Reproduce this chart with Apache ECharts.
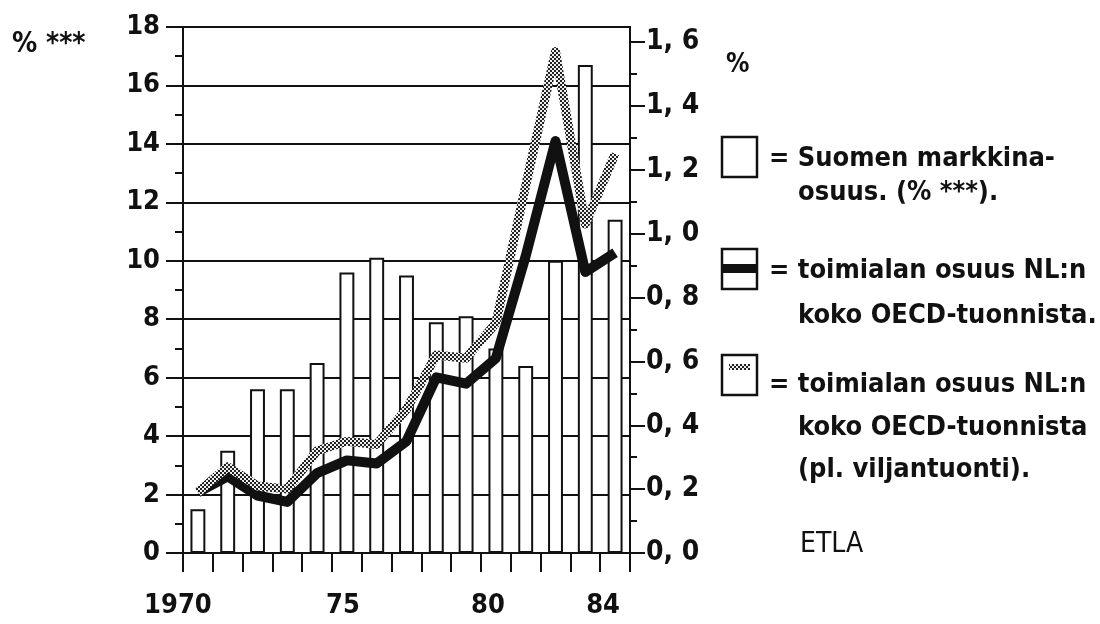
<!DOCTYPE html>
<html><head><meta charset="utf-8">
<script src="https://cdn.jsdelivr.net/npm/echarts@6/dist/echarts.min.js"></script>
<style>html,body{margin:0;padding:0;background:#fff}#c{width:1100px;height:624px}</style>
</head><body><div id="c"></div>
<script>
const years = ['1970','1971','1972','1973','1974','1975','1976','1977','1978','1979','1980','1981','1982','1983','1984'];
const yearLabels = {'1970':'1970','1975':'75','1980':'80','1984':'84'};
const marketShare = [1.5, 3.5, 5.6, 5.6, 6.5, 9.6, 10.1, 9.5, 7.9, 8.1, 7.0, 6.4, 10.0, 16.7, 11.4];
const shareTotal = [0.19, 0.24, 0.18, 0.16, 0.25, 0.29, 0.28, 0.35, 0.55, 0.53, 0.61, 0.93, 1.29, 0.88, 0.94];
const shareExGrain = [0.19, 0.27, 0.21, 0.20, 0.32, 0.35, 0.34, 0.45, 0.62, 0.61, 0.72, 1.15, 1.57, 1.03, 1.25];
const legendTexts = [
  ['= Suomen markkina-', 'osuus. (% ***).'],
  ['= toimialan osuus NL:n', 'koko OECD-tuonnista.'],
  ['= toimialan osuus NL:n', 'koko OECD-tuonnista', '(pl. viljantuonti).']
];

const FONT = "'DejaVu Sans Condensed', 'Liberation Sans Narrow', 'DejaVu Sans', sans-serif";
const INK = '#111';

const pc = document.createElement('canvas'); pc.width = 4; pc.height = 4;
const g = pc.getContext('2d');
g.fillStyle = '#eee'; g.fillRect(0, 0, 4, 4);
g.fillStyle = '#222'; g.fillRect(0, 0, 2, 2); g.fillRect(2, 2, 2, 2);
const checker = { image: pc, repeat: 'repeat' };

const chart = echarts.init(document.getElementById('c'), null, { renderer: 'canvas' });

const G0 = { left: 183, top: 27, width: 447, height: 526 };
const G1 = { left: 183, top: 42, width: 447, height: 511 };

const graphics = [];
graphics.push({ type: 'text', left: 12, top: 31, style: { text: '% ***', font: 'bold 28px ' + FONT, fill: INK } });
graphics.push({ type: 'text', left: 726, top: 52, style: { text: '%', font: 'bold 26px ' + FONT, fill: INK } });
const boxY = [137, 249, 355];
const lineY = [[159, 193], [271, 316], [385, 428, 470]];
boxY.forEach((by) => {
  graphics.push({ type: 'rect', shape: { x: 722, y: by, width: 35, height: 40 }, style: { fill: '#fff', stroke: INK, lineWidth: 2.5 } });
});
graphics.push({ type: 'rect', shape: { x: 722, y: 264, width: 35, height: 9 }, style: { fill: INK } });
graphics.push({ type: 'polyline', shape: { points: [[729, 367], [750, 367]] }, style: { stroke: checker, lineWidth: 6 } });
legendTexts.forEach((lines, i) => {
  lines.forEach((t, j) => {
    graphics.push({ type: 'text', x: j === 0 ? 769 : 798, y: lineY[i][j], style: { text: t, font: 'bold 27px ' + FONT, fill: INK, verticalAlign: 'middle' } });
  });
});
graphics.push({ type: 'text', x: 800, y: 545, style: { text: 'ETLA', font: '28px ' + FONT, fill: INK, verticalAlign: 'middle' } });

const shiftRich = (s) => ({ fontFamily: FONT, fontSize: 27, fontWeight: 'bold', color: INK, padding: [0, 2 * s, 0, 0] });
const option = {
  backgroundColor: '#fff',
  animation: false,
  grid: [
    Object.assign({ show: true, borderColor: INK, borderWidth: 2, backgroundColor: 'transparent' }, G0),
    Object.assign({}, G1)
  ],
  xAxis: [
    {
      type: 'category', gridIndex: 0, data: years, boundaryGap: true,
      axisLine: { show: true, lineStyle: { color: INK, width: 2 } },
      axisTick: { show: true, interval: 0, length: 19, lineStyle: { color: INK, width: 2 } },
      axisLabel: {
        interval: 0, margin: 39, color: INK, fontFamily: FONT, fontSize: 27, fontWeight: 'bold',
        formatter: v => {
          const l = yearLabels[v];
          if (!l) return '';
          return '{s' + v + '|' + l + '}';
        },
        rich: { s1970: shiftRich(20), s1975: shiftRich(4), s1980: shiftRich(8), s1984: shiftRich(12) }
      },
      splitLine: { show: false }
    },
    { type: 'category', gridIndex: 1, data: years, boundaryGap: true, show: false }
  ],
  yAxis: [
    {
      type: 'value', gridIndex: 0, min: 0, max: 18, interval: 2,
      axisLine: { show: true, lineStyle: { color: INK, width: 2 } },
      axisTick: { show: true, length: 17, lineStyle: { color: INK, width: 2 } },
      minorTick: { show: true, splitNumber: 2, length: 8, lineStyle: { color: INK, width: 2 } },
      axisLabel: { margin: 23, color: INK, fontFamily: FONT, fontSize: 27, fontWeight: 'bold' },
      splitLine: { show: true, lineStyle: { color: INK, width: 2 } }
    },
    {
      type: 'value', gridIndex: 1, position: 'right', min: 0, max: 1.6, interval: 0.2,
      axisLine: { show: true, lineStyle: { color: INK, width: 2 } },
      axisTick: { show: true, length: 15, lineStyle: { color: INK, width: 2 } },
      minorTick: { show: true, splitNumber: 2, length: 7, lineStyle: { color: INK, width: 2 } },
      axisLabel: { margin: 16, color: INK, fontFamily: FONT, fontSize: 28, fontWeight: 'bold', formatter: v => v.toFixed(1).replace('.', ', ') },
      splitLine: { show: false }
    }
  ],
  series: [
    {
      name: 'Suomen markkinaosuus', type: 'bar', xAxisIndex: 0, yAxisIndex: 0, data: marketShare,
      barWidth: '50%', itemStyle: { color: '#fff', borderColor: INK, borderWidth: 2 }, z: 3
    },
    {
      name: 'toimialan osuus', type: 'line', xAxisIndex: 1, yAxisIndex: 1, data: shareTotal,
      showSymbol: false, lineStyle: { color: INK, width: 10, join: 'round', cap: 'butt' }, z: 5
    },
    {
      name: 'toimialan osuus (pl. viljantuonti)', type: 'line', xAxisIndex: 1, yAxisIndex: 1, data: shareExGrain,
      showSymbol: false, lineStyle: { color: checker, width: 9, join: 'round', cap: 'butt' }, z: 6
    }
  ],
  graphic: graphics
};
chart.setOption(option);
</script>
</body></html>
